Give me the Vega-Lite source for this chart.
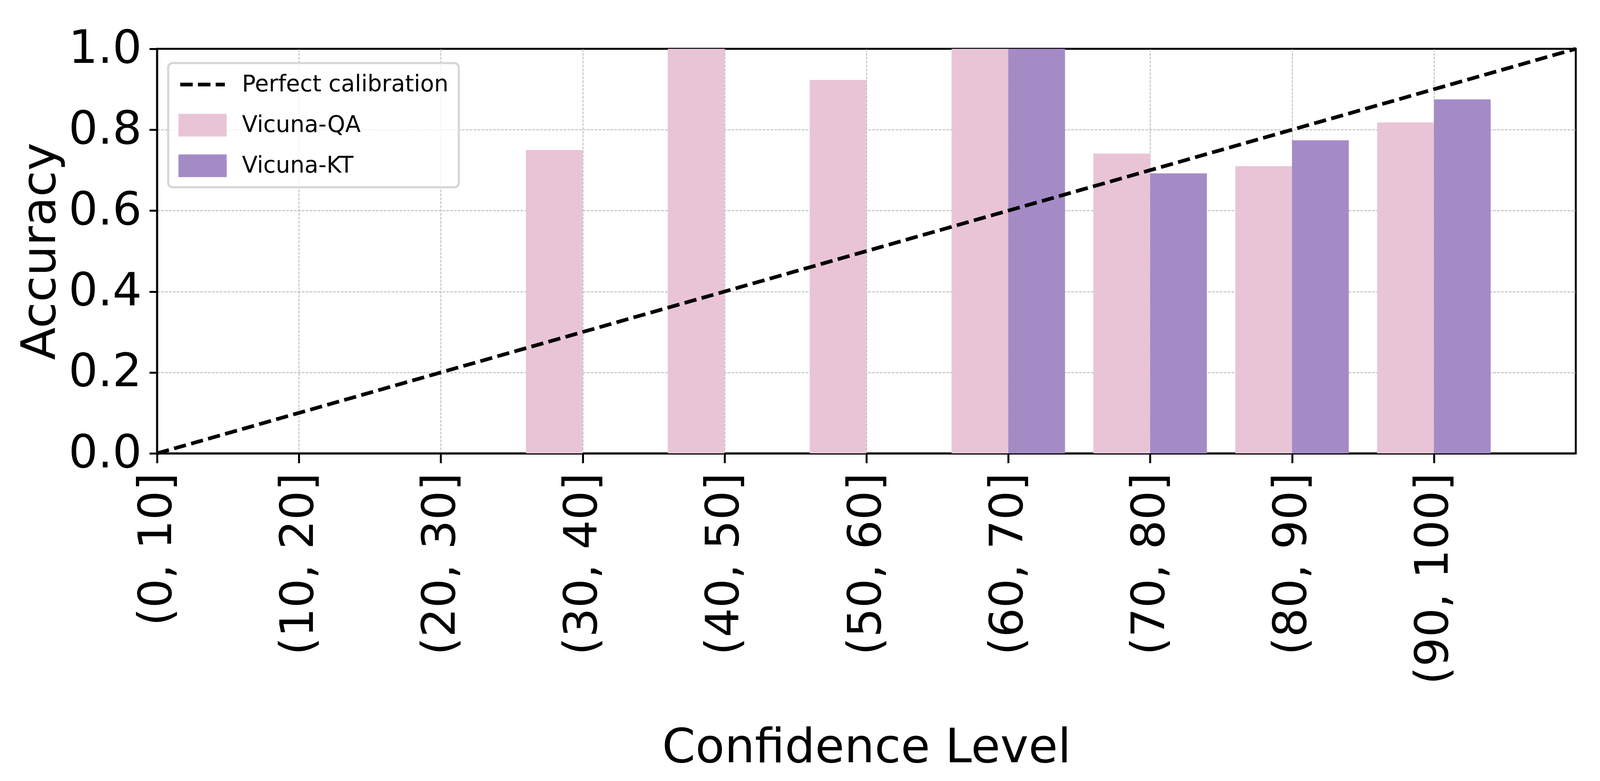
{
  "$schema": "https://vega.github.io/schema/vega-lite/v6.json",
  "width": 3632,
  "height": 1036,
  "autosize": {"type": "none"},
  "padding": {"left": 402, "top": 125, "right": 62, "bottom": 887},
  "background": "white",
  "config": {
    "font": "DejaVu Sans",
    "view": {"stroke": "black", "strokeWidth": 5},
    "axis": {
      "labelFont": "DejaVu Sans",
      "labelFontSize": 118,
      "labelColor": "black",
      "labelFlush": false,
      "labelOverlap": false,
      "labelLimit": 2000,
      "tickWidth": 5,
      "tickColor": "black",
      "domainColor": "black",
      "domainWidth": 5,
      "grid": true,
      "gridColor": "#b0b0b0",
      "gridWidth": 1.9,
      "gridDash": [7, 3],
      "titleFont": "DejaVu Sans",
      "titleFontSize": 122,
      "titleFontWeight": "normal",
      "titleColor": "black",
      "titleAlign": "center",
      "titleBaseline": "alphabetic",
      "zindex": 1
    },
    "legend": {"strokeWidth": 5.6}
  },
  "datasets": {
    "bars": [
      {"bin": 3, "series": "Vicuna-QA", "accuracy": 0.75},
      {"bin": 4, "series": "Vicuna-QA", "accuracy": 1.0},
      {"bin": 5, "series": "Vicuna-QA", "accuracy": 0.923},
      {"bin": 6, "series": "Vicuna-QA", "accuracy": 1.0},
      {"bin": 7, "series": "Vicuna-QA", "accuracy": 0.741},
      {"bin": 8, "series": "Vicuna-QA", "accuracy": 0.71},
      {"bin": 9, "series": "Vicuna-QA", "accuracy": 0.818},
      {"bin": 6, "series": "Vicuna-KT", "accuracy": 1.0},
      {"bin": 7, "series": "Vicuna-KT", "accuracy": 0.692},
      {"bin": 8, "series": "Vicuna-KT", "accuracy": 0.774},
      {"bin": 9, "series": "Vicuna-KT", "accuracy": 0.875}
    ],
    "diag": [
      {"bin": 0, "accuracy": 0},
      {"bin": 10, "accuracy": 1}
    ]
  },
  "encoding": {
    "x": {
      "field": "bin",
      "type": "quantitative",
      "scale": {"domain": [0, 10], "nice": false, "zero": false, "padding": 0},
      "axis": {
        "values": [0, 1, 2, 3, 4, 5, 6, 7, 8, 9],
        "labelExpr": "'(' + (datum.value * 10) + ', ' + (datum.value * 10 + 10) + ']'",
        "labelAngle": 270,
        "tickSize": 24.6,
        "labelPadding": 24.6,
        "gridOpacity": {"condition": {"test": "datum.value === 0", "value": 0}, "value": 1},
        "title": "Confidence Level",
        "titleX": 1816,
        "titleY": 790
      }
    },
    "y": {
      "field": "accuracy",
      "type": "quantitative",
      "scale": {"domain": [0, 1], "nice": false, "padding": 0},
      "axis": {
        "values": [0, 0.2, 0.4, 0.6, 0.8, 1.0],
        "format": ".1f",
        "tickSize": 19.7,
        "labelPadding": 19.7,
        "gridOpacity": {"condition": {"test": "datum.value === 0 || datum.value === 1", "value": 0}, "value": 1},
        "title": "Accuracy",
        "titleAngle": 270,
        "titleX": -262,
        "titleY": 518
      }
    },
    "color": {
      "field": "series",
      "type": "nominal",
      "scale": {
        "domain": ["Perfect calibration", "Vicuna-QA", "Vicuna-KT"],
        "range": ["black", "#e8c4d6", "#a48bc6"]
      },
      "legend": {
        "title": null,
        "orient": "none",
        "legendX": 28.5,
        "legendY": 36.5,
        "direction": "vertical",
        "padding": 26,
        "rowPadding": 46,
        "clipHeight": 58,
        "labelFont": "DejaVu Sans",
        "labelFontSize": 58,
        "labelColor": "black",
        "labelOffset": 39,
        "labelLimit": 2000,
        "symbolSize": 13064,
        "symbolStrokeWidth": 0,
        "symbolType": "M-1,-0.4375H1V0.4375H-1Z",
        "fillColor": "rgba(255,255,255,0.8)",
        "strokeColor": "#d6d6d6",
        "cornerRadius": 11.5,
        "zindex": 2,
        "encode": {
          "legend": {"update": {"strokeWidth": {"value": 5.6}}},
          "symbols": {
            "update": {
              "shape": {"signal": "datum.value === 'Perfect calibration' ? 'stroke' : 'M-1,-0.4375H1V0.4375H-1Z'"},
              "fill": {"signal": "datum.value === 'Perfect calibration' ? 'transparent' : (datum.value === 'Vicuna-QA' ? '#e8c4d6' : '#a48bc6')"},
              "stroke": {"signal": "datum.value === 'Perfect calibration' ? 'black' : 'transparent'"},
              "strokeDash": {"signal": "datum.value === 'Perfect calibration' ? [32, 13.4] : [1, 0]"},
              "strokeWidth": {"value": 9.4},
              "opacity": {"value": 1},
              "fillOpacity": {"value": 1}
            }
          }
        }
      }
    }
  },
  "layer": [
    {
      "data": {"name": "bars"},
      "transform": [{"filter": "datum.series === 'Vicuna-QA'"}],
      "mark": {"type": "bar", "width": 145.3, "xOffset": -72.6}
    },
    {
      "data": {"name": "bars"},
      "transform": [{"filter": "datum.series === 'Vicuna-KT'"}],
      "mark": {"type": "bar", "width": 145.3, "xOffset": 72.6}
    },
    {
      "data": {"name": "diag"},
      "mark": {"type": "line", "strokeDash": [31.6, 13.7], "strokeWidth": 9.4},
      "encoding": {"color": {"datum": "Perfect calibration"}}
    }
  ]
}
